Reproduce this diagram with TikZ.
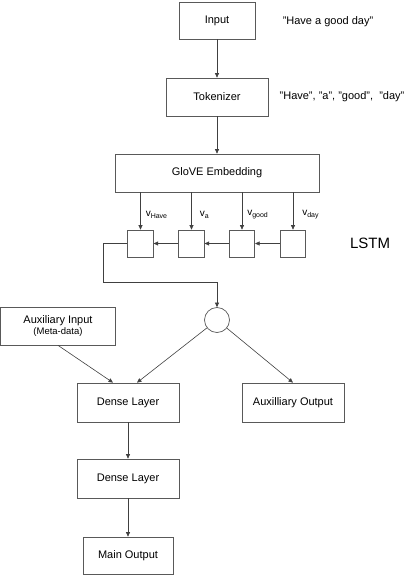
\documentclass[tikz,border=0pt]{standalone}
\usepackage{fontspec}
\setmainfont{Liberation Sans}
\usepackage{tikz}
\usetikzlibrary{arrows.meta}

\tikzset{
  layer/.style={draw=black!65, line width=0.7pt, minimum height=38pt, inner sep=0pt,
    font=\fontsize{11}{13}\selectfont},
  cell/.style={draw=black!65, line width=0.7pt, minimum width=25.5pt, minimum height=27pt, inner sep=0pt},
  flow/.style={draw=black!75, line width=0.6pt, -{Triangle[length=4.5pt,width=4pt]}},
  note/.style={font=\fontsize{11}{13}\selectfont, inner sep=0pt}
}

\begin{document}
\begin{tikzpicture}[x=1pt, y=-1pt]
    \useasboundingbox (0,0) rectangle (411,576);

    \node[layer, minimum width=76pt, minimum height=37pt] (input) at (217,20.5) {Input};
    \node[layer, minimum width=102pt] (tok) at (217,97) {Tokenizer};
    \node[layer, minimum width=204pt] (glove) at (217,173) {GloVE Embedding};

    \node[note] (sentence) at (328,22) {"Have a good day"};
    \node[note] (tokens) at (342,97) {"Have", "a", "good", \ "day"};

    % lstm cells
    \node[cell] (c1) at (140.5,243.5) {};
    \node[cell] (c2) at (191.5,243.5) {};
    \node[cell] (c3) at (242,243.5) {};
    \node[cell] (c4) at (293,243.5) {};
    \node[font=\fontsize{15}{17}\selectfont, inner sep=0pt] (lstm) at (370,243) {LSTM};

    \node[draw=black!65, line width=0.7pt, circle, minimum size=25pt, inner sep=0pt] (join) at (217,320) {};

    \node[layer, minimum width=115pt, align=center, font=\fontsize{11}{12}\selectfont] (auxin) at (58,326)
      {Auxiliary Input\\[-1pt]{\fontsize{9.5}{11}\selectfont(Meta-data)}};
    \node[layer, minimum width=102pt, minimum height=39pt] (dense1) at (128,402.5) {Dense Layer};
    \node[layer, minimum width=102pt, minimum height=39pt] (auxout) at (293,402.5) {Auxilliary Output};
    \node[layer, minimum width=102pt, minimum height=39pt] (dense2) at (128,478.5) {Dense Layer};
    \node[layer, minimum width=90pt, minimum height=37pt] (mainout) at (128,555.5) {Main Output};

    \draw[flow] (input) -- (tok);
    \draw[flow] (tok) -- (glove);

    \draw[flow] (c1.north |- glove.south) -- node[right, pos=0.6, xshift=5pt, inner sep=0pt]
      {v\textsubscript{Have}} (c1.north);
    \draw[flow] (c2.north |- glove.south) -- node[right, pos=0.6, xshift=8pt, inner sep=0pt]
      {v\textsubscript{a}} (c2.north);
    \draw[flow] (c3.north |- glove.south) -- node[right, pos=0.6, xshift=5pt, inner sep=0pt]
      {v\textsubscript{good}} (c3.north);
    \draw[flow] (c4.north |- glove.south) -- node[right, pos=0.6, xshift=9pt, inner sep=0pt]
      {v\textsubscript{day}} (c4.north);

    \draw[flow] (c4) -- (c3);
    \draw[flow] (c3) -- (c2);
    \draw[flow] (c2) -- (c1);

    \coordinate (bend) at (103,282);
    \draw[flow] (c1.west) -| (bend) -| (join.north);

    \draw[flow] (auxin.south) -- ([xshift=-15pt]dense1.north);
    \draw[flow] (join) -- ([xshift=9pt]dense1.north);
    \draw[flow] (join) -- (auxout.north);
    \draw[flow] (dense1) -- (dense2);
    \draw[flow] (dense2) -- (mainout);

      % \draw[help lines] (0,0) grid[step=50] (411,576);
  \end{tikzpicture}
\end{document}
